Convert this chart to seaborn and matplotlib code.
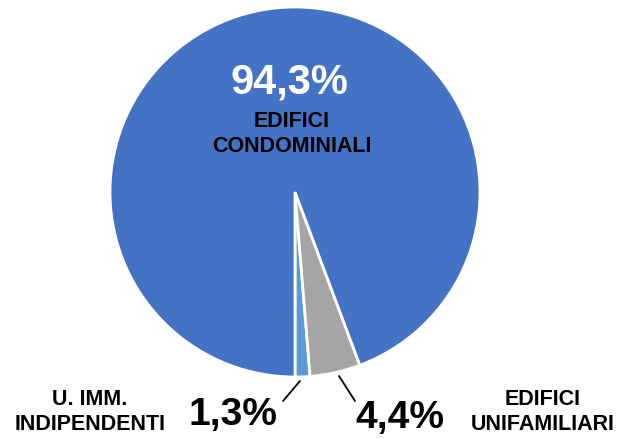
import matplotlib
matplotlib.use('Agg')
import matplotlib.pyplot as plt
import seaborn as sns

sns.set_style('white')
plt.rcParams['font.family'] = ['Liberation Sans', 'DejaVu Sans']
plt.rcParams['text.color'] = 'black'

# shares of dwellings by building type (percent)
categories = ['U. IMM.\nINDIPENDENTI', 'EDIFICI\nUNIFAMILIARI', 'EDIFICI\nCONDOMINIALI']
values = [1.3, 4.4, 94.3]
pct_labels = ['1,3%', '4,4%', '94,3%']
colors = ['#5B9BD5', '#A5A5A5', '#4472C4']

fig = plt.figure(figsize=(6.33, 4.39), dpi=100)
ax = fig.add_axes([0, 0, 1, 1])

ax.pie(values, colors=colors, startangle=-90, counterclock=True,
       center=(295, 246), radius=185, frame=True,
       wedgeprops=dict(edgecolor='white', linewidth=2))
ax.set_xlim(0, 633)
ax.set_ylim(0, 439)
ax.set_aspect('equal')
ax.axis('off')

# big slice: label inside
ax.text(289, 346, pct_labels[2], color='white', fontsize=30,
        fontweight='bold', ha='center', va='baseline')
ax.text(292, 287, categories[2], color='black', fontsize=15.5,
        fontweight='bold', ha='center', va='baseline', linespacing=1.25)

# small slices: labels below with leader lines
ax.text(233, 14, pct_labels[0], fontsize=28, fontweight='bold',
        ha='center', va='baseline')
ax.text(90, 9, categories[0], fontsize=15.5, fontweight='bold',
        ha='center', va='baseline', linespacing=1.25)
ax.plot([283, 300], [37, 57], color='black', lw=1.3)

ax.text(400, 11, pct_labels[1], fontsize=28, fontweight='bold',
        ha='center', va='baseline')
ax.text(543, 9, categories[1], fontsize=15.5, fontweight='bold',
        ha='center', va='baseline', linespacing=1.25)
ax.plot([339, 355], [62, 37], color='black', lw=1.3)

plt.savefig('out.png', dpi=100)
plt.close()
